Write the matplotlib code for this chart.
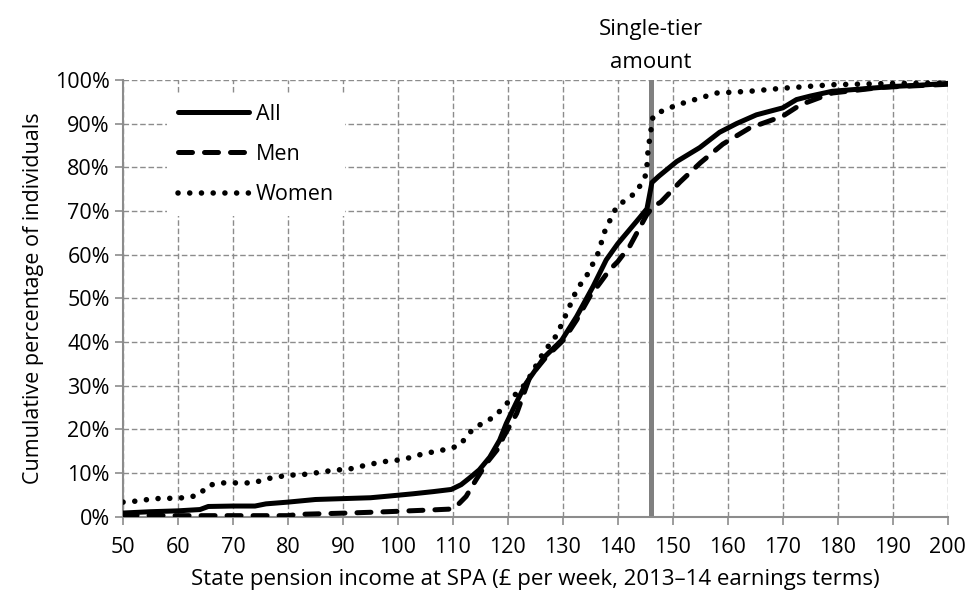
import matplotlib.pyplot as plt
from matplotlib.ticker import MultipleLocator, FuncFormatter

# Cumulative distribution of state pension income at SPA
all_x = [50, 55, 60, 64, 65.5, 70, 74, 76, 80, 85, 90, 95, 98.5, 102.7, 106.4, 109.7,
         111.5, 113, 114.8, 116.7, 118.5, 119.7, 121.5, 123.3, 126.7, 129.8, 132.5,
         135.5, 137.9, 140, 142, 144, 145.3, 146.2, 147.5, 150.7, 154.9, 158.5, 161.6,
         165.2, 170, 172.5, 175, 179, 185, 190, 195, 200]
all_y = [0.8, 1.1, 1.3, 1.6, 2.3, 2.4, 2.4, 2.9, 3.3, 3.9, 4.1, 4.3, 4.7, 5.2, 5.7, 6.2,
         7.3, 8.8, 10.7, 13.6, 17.5, 21.3, 26, 30.5, 36.6, 40.4, 45.8,
         52.7, 58.8, 62.5, 65.5, 68.5, 70.5, 76.5, 78, 81.3, 84.5, 88, 90,
         92, 93.6, 95.5, 96.3, 97.4, 98, 98.5, 98.8, 99.2]

men_x = [50, 60, 70, 80, 82, 91, 98, 106, 109.5, 110.6, 112.4, 114.2, 116.1, 118.5,
         119.1, 121.6, 124, 127, 130.1, 132.5, 134.9, 136.7, 138.5, 140, 142.2, 145.2,
         146.4, 147.8, 151.3, 155, 159.1, 164, 170, 173.2, 179, 188, 200]
men_y = [0.3, 0.2, 0.2, 0.2, 0.5, 0.8, 1.1, 1.5, 1.7, 2.3, 4.6, 8.4, 12.2, 16,
         18, 23.6, 32, 36.6, 40.4, 45, 50.4, 53.4, 56.5, 58.4, 62, 69,
         71, 72, 76.6, 81, 85.3, 89, 91.7, 94.3, 97, 98.3, 99]

women_x = [50, 51.5, 55.8, 59.8, 62, 63.9, 65.3, 67.4, 73.8, 75.9, 77.9, 80, 82.1,
           84.4, 86.4, 88.5, 90.6, 92.6, 94.7, 96.7, 98.7, 100.8, 103, 105, 107,
           109.1, 111.1, 112.4, 113.6, 115.3, 116.9, 118.2, 120.4, 123.3, 126.4,
           128.9, 130.7, 132.5, 134.6, 136.4, 137.7, 139.8, 143.4, 145.2, 145.5,
           146.4, 148.5, 151.9, 158, 164, 170, 179, 190, 200]
women_y = [3.3, 3.4, 4.1, 4.2, 4.4, 5, 7, 7.7, 7.7, 8.6, 9, 9.5, 9.5,
           9.9, 10.2, 10.7, 10.7, 11.3, 11.9, 12.4, 12.8, 13, 13.8, 14.5, 14.9,
           15.5, 16.2, 18.1, 20, 21.3, 22.4, 23.7, 26.7, 30.5, 37.4,
           41.6, 46.6, 51.9, 55.7, 60.3, 65.6, 71, 74.3, 78.5, 84,
           91.7, 93.2, 94.7, 97, 97.4, 98.1, 98.9, 99.2, 99.3]

single_tier = 146

plt.rcParams['font.family'] = ['Open Sans', 'DejaVu Sans']

fig = plt.figure(figsize=(9.69, 5.92), dpi=100)
ax = fig.add_axes([0.127, 0.1275, 0.851, 0.7375])

grey = '#8c8c8c'
ax.grid(True, color=grey, linestyle=(0, (4, 2)), linewidth=1.0, zorder=0)
ax.set_axisbelow(True)

ax.axvline(single_tier, color='#808080', linewidth=3.6, zorder=2)

ax.plot(all_x, all_y, color='black', linewidth=3.6, solid_capstyle='round',
        solid_joinstyle='round', label='All', zorder=4)
ax.plot(men_x, men_y, color='black', linewidth=3.6, linestyle=(0, (2.8, 2.4)),
        dash_capstyle='round', label='Men', zorder=3)
ax.plot(women_x, women_y, color='black', linewidth=4.0, linestyle=(0, (0.01, 2.1)),
        dash_capstyle='round', label='Women', zorder=3)

ax.set_xlim(50, 200)
ax.set_ylim(0, 100)
ax.xaxis.set_major_locator(MultipleLocator(10))
ax.yaxis.set_major_locator(MultipleLocator(10))
ax.yaxis.set_major_formatter(FuncFormatter(lambda v, p: '%d%%' % v))

for side in ['top', 'right']:
    ax.spines[side].set_visible(False)
for side in ['left', 'bottom']:
    ax.spines[side].set_color(grey)
    ax.spines[side].set_linewidth(1.5)

ax.tick_params(axis='both', colors=grey, labelcolor='black', labelsize=15.5,
               length=6, width=1.2)
ax.tick_params(axis='x', pad=9)

ax.set_xlabel('State pension income at SPA (£ per week, 2013–14 earnings terms)',
              fontsize=16, labelpad=8)
ax.set_ylabel('Cumulative percentage of individuals', fontsize=15.5, labelpad=8)

ax.text(single_tier, 101.6, 'Single-tier\namount', ha='center', va='bottom',
        fontsize=16, linespacing=1.75)

leg = ax.legend(loc='upper left', bbox_to_anchor=(0.04, 0.995), fontsize=15.5,
                handlelength=3.3, labelspacing=0.9, handletextpad=0.35,
                frameon=True, fancybox=False, borderpad=0.5)
leg.get_frame().set_facecolor('white')
leg.get_frame().set_edgecolor('none')
leg.get_frame().set_alpha(1)
leg.set_zorder(5)

fig.savefig('out.png', dpi=100)
